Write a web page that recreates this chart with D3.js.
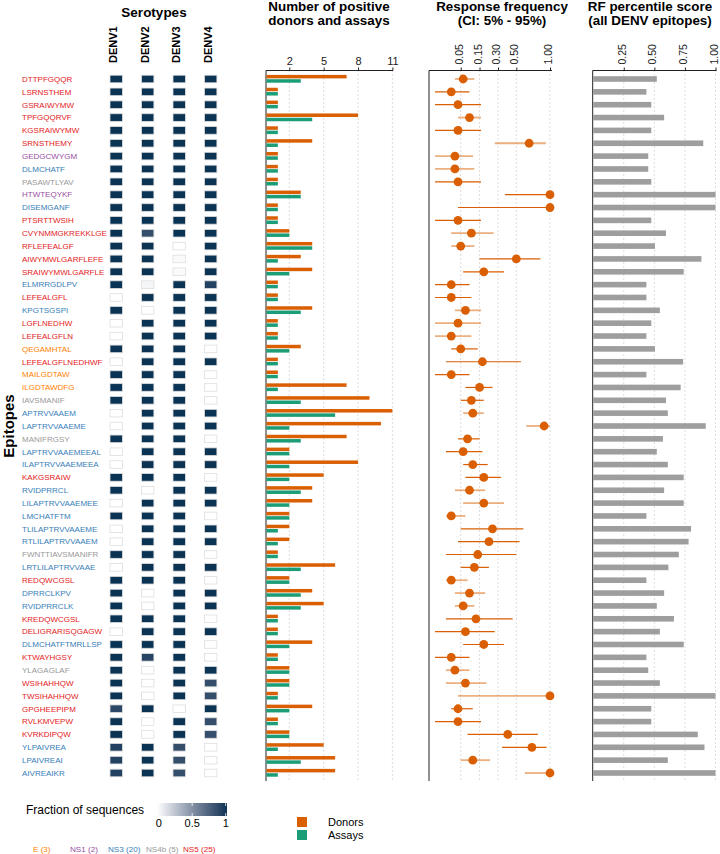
<!DOCTYPE html>
<html lang="en">
<head>
<meta charset="utf-8">
<title>DENV epitopes</title>
<script src="https://cdn.jsdelivr.net/npm/d3@7"></script>
<style>
body { margin: 0; background: #fff; }
svg { font-family: "Liberation Sans", Arial, sans-serif; }
</style>
</head>
<body>
<svg id="chart" width="720" height="854"></svg>
<script>
// ---- data ----
const epitopes = ["DTTPFGQQR","LSRNSTHEM","GSRAIWYMW","TPFGQQRVF","KGSRAIWYMW","SRNSTHEMY","GEDGCWYGM","DLMCHATF","PASAWTLYAV","HTWTEQYKF",
  "DISEMGANF","PTSRTTWSIH","CVYNMMGKREKKLGE","RFLEFEALGF","AIWYMWLGARFLEFE","SRAIWYMWLGARFLE","ELMRRGDLPV","LEFEALGFL","KPGTSGSPI","LGFLNEDHW",
  "LEFEALGFLN","QEGAMHTAL","LEFEALGFLNEDHWF","MAILGDTAW","ILGDTAWDFG","IAVSMANIF","APTRVVAAEM","LAPTRVVAAEME","MANIFRGSY","LAPTRVVAAEMEEAL",
  "ILAPTRVVAAEMEEA","KAKGSRAIW","RVIDPRRCL","LILAPTRVVAAEMEE","LMCHATFTM","TLILAPTRVVAAEME","RTLILAPTRVVAAEM","FWNTTIAVSMANIFR","LRTLILAPTRVVAAE","REDQWCGSL",
  "DPRRCLKPV","RVIDPRRCLK","KREDQWCGSL","DELIGRARISQGAGW","DLMCHATFTMRLLSP","KTWAYHGSY","YLAGAGLAF","WSIHAHHQW","TWSIHAHHQW","GPGHEEPIPM",
  "RVLKMVEPW","KVRKDIPQW","YLPAIVREA","LPAIVREAI","AIVREAIKR"];

const proteins = ["NS5","NS5","NS5","NS5","NS5","NS5","NS1","NS3","NS4b","NS1",
  "NS3","NS5","NS5","NS5","NS5","NS5","NS3","NS5","NS3","NS5",
  "NS5","E","NS5","E","E","NS4b","NS3","NS3","NS4b","NS3",
  "NS3","NS5","NS3","NS3","NS3","NS3","NS3","NS4b","NS3","NS5",
  "NS3","NS3","NS5","NS5","NS3","NS5","NS4b","NS5","NS5","NS5",
  "NS5","NS5","NS3","NS3","NS3"];

const proteinNames = ["E","NS1","NS3","NS4b","NS5"];
const serotypes = ["DENV1","DENV2","DENV3","DENV4"];

// fraction of sequences carrying the epitope
const fracDENV1 = [1,1,1,1,1,1,1,1,1,1, 1,1,1,1,1,1,1,0,1,0, 0,1,0,1,1,1,0,0,1,0,
  0,1,1,0,1,0,0,1,0,1, 1,1,1,0,1,1,1,1,1,0.88, 1,1,0.92,0.92,0.92];
const fracDENV2 = [1,1,1,1,1,1,1,1,1,1, 1,1,0.85,1,1,1,0.04,1,0,1, 1,1,1,1,1,1,1,1,1,1,
  1,1,0,1,1,1,1,1,1,1, 0,0,1,1,1,0.9,0,0,0,1, 0,0,1,1,1];
const fracDENV3 = [1,1,1,1,1,1,1,1,1,1, 1,1,1,0,0.02,0.02,1,1,1,1, 1,1,1,1,1,1,1,1,1,1,
  1,1,1,1,1,1,1,1,1,1, 1,1,1,1,1,1,1,1,1,0, 1,1,0.85,0.85,0.85];
const fracDENV4 = [1,1,1,1,1,1,1,1,1,1, 1,1,1,1,1,1,0.92,1,1,1, 1,0,1,0,0,0,1,1,0,1,
  1,0,1,1,0,1,1,0,1,0, 1,1,0,1,0,0,1,0.85,0.85,1, 0.85,0.85,0,0,0];

const donors = [7,1,1,8,1,4,1,1,1,3, 1,1,2,4,3,4,1,1,4,1, 1,3,1,1,7,9,11,10,7,2,
  8,5,4,4,2,2,2,1,6,2, 4,5,1,1,4,1,2,2,1,4, 1,2,5,6,6];
const assays = [3,1,1,4,1,1,1,1,1,3, 1,1,2,4,1,2,1,1,3,1, 1,2,1,1,1,3,6,2,3,2,
  2,2,3,2,2,1,1,1,3,2, 3,3,1,1,2,1,2,2,1,2, 1,2,1,3,1];

// response frequency with 5%-95% interval
const rf = [0.06,0.02,0.04,0.09,0.04,0.67,0.03,0.03,0.04,1.0, 1.0,0.04,0.10,0.05,0.50,0.18,0.02,0.02,0.07,0.04,
  0.02,0.05,0.17,0.02,0.15,0.10,0.108,0.90,0.08,0.06, 0.108,0.18,0.09,0.18,0.02,0.25,0.22,0.138,0.117,0.02,
  0.09,0.06,0.127,0.07,0.18,0.02,0.03,0.07,1.0,0.04, 0.04,0.40,0.71,0.108,1.0];
const rfLo = [0.03,0,0,0.04,0,0.27,0,0,0,0.37, 0.04,0,0.02,0.02,0.15,0.06,0,0,0.03,0,
  0,0.02,0.009,0,0.07,0.05,0.06,0.63,0.04,0.009, 0.06,0.07,0.03,0.06,0.009,0.05,0.04,0.009,0.05,0.009,
  0.03,0.03,0.009,0,0.06,0,0.009,0.009,0.04,0.02, 0,0.08,0.34,0.05,0.61];
const rfHi = [0.117,0.09,0.16,0.16,0.16,0.93,0.11,0.117,0.16,1.0, 1.0,0.16,0.26,0.117,0.84,0.36,0.09,0.10,0.16,0.16,
  0.10,0.138,0.56,0.09,0.25,0.18,0.18,1.0,0.15,0.17, 0.21,0.33,0.19,0.36,0.07,0.59,0.54,0.50,0.22,0.08,
  0.19,0.117,0.456,0.27,0.36,0.09,0.09,0.20,1.0,0.108, 0.16,0.80,0.94,0.23,1.0];
const ciLight = [1,0,0,1,0,1,1,1,0,0, 0,0,1,1,0,0,0,0,1,1, 1,0,0,0,0,0,1,1,0,0,
  0,0,1,1,1,0,0,0,0,1, 1,1,0,0,0,0,1,1,1,0, 0,0,0,1,1];

const rfPercentile = [0.52,0.435,0.475,0.58,0.475,0.90,0.45,0.45,0.475,1.0, 1.0,0.475,0.595,0.505,0.885,0.74,0.435,0.435,0.545,0.475,
  0.435,0.505,0.735,0.435,0.715,0.595,0.61,0.92,0.57,0.52, 0.61,0.74,0.58,0.74,0.435,0.80,0.78,0.70,0.615,0.435,
  0.58,0.52,0.66,0.545,0.74,0.435,0.45,0.545,1.0,0.475, 0.475,0.855,0.91,0.61,1.0];

const donorTicks = [2,5,8,11];
const rfTicks = [0.05,0.15,0.30,0.50,1.00];
const pctTicks = [0.25,0.50,0.75,1.00];
const fractionTicks = [0,0.5,1];

// ---- setup ----
const svg = d3.select("#chart");
const protColor = d3.scaleOrdinal().domain(proteinNames)
  .range(["#FF7F00","#984EA3","#377EB8","#999999","#E41A1C"]);
const fillScale = d3.scaleLinear().domain([0,1]).range(["#ffffff","#0b3354"]).interpolate(d3.interpolateLab);
const ORANGE = "#D95F02", GREEN = "#1B9E77";

const y = d3.scalePoint().domain(epitopes).range([79, 773]);
const panelTop = 70.5, panelBottom = 781;
const fracs = [fracDENV1, fracDENV2, fracDENV3, fracDENV4];
const xSero = d3.scalePoint().domain(serotypes).range([116.2, 210.7]);

// ---- serotype heatmap ----
svg.append("text").attr("x", 154).attr("y", 17).attr("text-anchor","middle")
  .attr("font-size", 13.5).attr("font-weight","bold").text("Serotypes");

svg.append("g").selectAll("text").data(serotypes).join("text")
  .attr("transform", d => `translate(${xSero(d) + 1},63) rotate(-90)`)
  .attr("font-size", 11).attr("font-weight","bold").text(d => d);

svg.append("text").attr("transform", `translate(14,${(y(epitopes[0]) + y(epitopes[54])) / 2}) rotate(-90)`)
  .attr("text-anchor","middle").attr("font-size", 15).attr("font-weight","bold").text("Epitopes");

svg.append("g").selectAll("text").data(epitopes).join("text")
  .attr("x", 22).attr("y", d => y(d)).attr("dy","0.35em")
  .attr("font-size", 8).attr("fill", (d, i) => protColor(proteins[i])).text(d => d);

const tileW = 12.4, tileH = 7.6;
const tiles = [];
serotypes.forEach((s, j) => epitopes.forEach((e, i) => tiles.push({s, e, v: fracs[j][i]})));
svg.append("g").selectAll("rect").data(tiles).join("rect")
  .attr("x", d => xSero(d.s) - tileW / 2).attr("y", d => y(d.e) - tileH / 2)
  .attr("width", tileW).attr("height", tileH)
  .attr("fill", d => fillScale(d.v)).attr("stroke", "#dedede").attr("stroke-width", 0.8);

// helper for a panel frame + dotted grid
function frame(x0, x1, scale, ticks) {
  const g = svg.append("g");
  g.selectAll("line.grid").data(ticks).join("line").attr("class","grid")
    .attr("x1", d => scale(d)).attr("x2", d => scale(d)).attr("y1", panelTop).attr("y2", panelBottom)
    .attr("stroke", "#aaaaaa").attr("stroke-width", 0.8).attr("stroke-dasharray", "1,3");
  g.append("line").attr("x1", x0).attr("x2", x1).attr("y1", panelTop).attr("y2", panelTop).attr("stroke", "#222").attr("stroke-width", 1);
  g.append("line").attr("x1", x0).attr("x2", x0).attr("y1", panelTop).attr("y2", panelBottom).attr("stroke", "#222").attr("stroke-width", 1);
  return g;
}
function title(x, lines) {
  const t = svg.append("text").attr("x", x).attr("y", 11).attr("text-anchor","middle")
    .attr("font-size", 13.4).attr("font-weight","bold");
  lines.forEach((l, i) => t.append("tspan").attr("x", x).attr("dy", i ? 14 : 0).text(l));
}
function styleAxis(ax, rotate) {
  ax.select(".domain").remove();
  ax.selectAll("line").attr("stroke", "#222");
  const t = ax.selectAll("text").attr("fill", "#222").attr("font-family", "Liberation Sans, Arial, sans-serif");
  if (rotate) {
    t.attr("transform","rotate(-90)").attr("text-anchor","start")
      .attr("x", 6).attr("y", 0).attr("dy","0.15em").attr("font-size", 10.5);
  } else {
    t.attr("font-size", 11);
  }
}

// ---- donors / assays ----
const xDon = d3.scaleLinear().domain([0, 11]).range([266.4, 392.4]);
title(329, ["Number of positive", "donors and assays"]);
frame(266, 393, xDon, donorTicks);
styleAxis(svg.append("g").attr("transform", `translate(0,${panelTop})`)
  .call(d3.axisTop(xDon).tickValues(donorTicks).tickSize(3).tickSizeOuter(0).tickFormat(d3.format("d"))), false);

svg.append("g").selectAll("rect").data(epitopes).join("rect")
  .attr("x", xDon(0)).attr("y", d => y(d) - 4.1).attr("height", 3.5)
  .attr("width", (d, i) => xDon(donors[i]) - xDon(0)).attr("fill", ORANGE);
svg.append("g").selectAll("rect").data(epitopes).join("rect")
  .attr("x", xDon(0)).attr("y", d => y(d) + 0.2).attr("height", 3.5)
  .attr("width", (d, i) => xDon(assays[i]) - xDon(0)).attr("fill", GREEN);

// ---- response frequency ----
const xRF = d3.scaleSqrt().domain([0, 1]).range([435, 550]);
title(502, ["Response frequency", "(CI: 5% - 95%)"]);
frame(429, 552, xRF, rfTicks);
styleAxis(svg.append("g").attr("transform", `translate(0,${panelTop})`)
  .call(d3.axisTop(xRF).tickValues(rfTicks).tickSize(3).tickSizeOuter(0).tickFormat(d3.format(".2f"))), true);

svg.append("g").selectAll("line").data(epitopes).join("line")
  .attr("x1", (d, i) => xRF(rfLo[i])).attr("x2", (d, i) => xRF(rfHi[i]))
  .attr("y1", d => y(d)).attr("y2", d => y(d))
  .attr("stroke", ORANGE).attr("stroke-width", (d, i) => ciLight[i] ? 1.8 : 1.2)
  .attr("stroke-opacity", (d, i) => ciLight[i] ? 0.5 : 1);
svg.append("g").selectAll("circle").data(epitopes).join("circle")
  .attr("cx", (d, i) => xRF(rf[i])).attr("cy", d => y(d)).attr("r", 4.4).attr("fill", ORANGE);

// ---- RF percentile ----
const xPct = d3.scaleLinear().domain([0, 1]).range([593.2, 715.5]);
title(650, ["RF percentile score", "(all DENV epitopes)"]);
frame(592.7, 716.5, xPct, pctTicks);
styleAxis(svg.append("g").attr("transform", `translate(0,${panelTop})`)
  .call(d3.axisTop(xPct).tickValues(pctTicks).tickSize(3).tickSizeOuter(0).tickFormat(d3.format(".2f"))), true);

svg.append("g").selectAll("rect").data(epitopes).join("rect")
  .attr("x", xPct(0)).attr("y", d => y(d) - 2.8).attr("height", 5.6)
  .attr("width", (d, i) => xPct(rfPercentile[i]) - xPct(0)).attr("fill", "#9e9e9e");

// ---- legends ----
svg.append("text").attr("x", 26).attr("y", 814).attr("font-size", 12).text("Fraction of sequences");
const xLeg = d3.scaleLinear().domain([0, 1]).range([158.7, 225.7]);
const grad = svg.append("defs").append("linearGradient").attr("id", "fracGrad");
d3.range(0, 1.01, 0.1).forEach(t => grad.append("stop").attr("offset", t).attr("stop-color", fillScale(t)));
svg.append("rect").attr("x", 157).attr("y", 803).attr("width", 70).attr("height", 13).attr("fill", "url(#fracGrad)");
svg.append("g").selectAll("line").data(fractionTicks).join("line")
  .attr("x1", d => xLeg(d)).attr("x2", d => xLeg(d)).attr("y1", 803).attr("y2", 816)
  .attr("stroke", "#fff").attr("stroke-width", 0.8).attr("stroke-dasharray", "3,7,3");
svg.append("g").selectAll("text").data(fractionTicks).join("text")
  .attr("x", d => xLeg(d)).attr("y", 827).attr("text-anchor","middle").attr("font-size", 11)
  .text(d => d3.format("~g")(d));

const protLegendX = [33, 70, 108, 146, 183];
svg.append("g").selectAll("text").data(proteinNames).join("text")
  .attr("x", (d, i) => protLegendX[i]).attr("y", 852).attr("font-size", 8.1)
  .attr("fill", d => protColor(d))
  .text(d => `${d} (${proteins.filter(p => p === d).length})`);

const keyItems = [["Donors", ORANGE], ["Assays", GREEN]];
const key = svg.append("g").selectAll("g").data(keyItems).join("g")
  .attr("transform", (d, i) => `translate(297,${817 + i * 13})`);
key.append("rect").attr("width", 10).attr("height", 10).attr("fill", d => d[1]);
key.append("text").attr("x", 31).attr("y", 9).attr("font-size", 11).text(d => d[0]);
</script>
</body>
</html>
